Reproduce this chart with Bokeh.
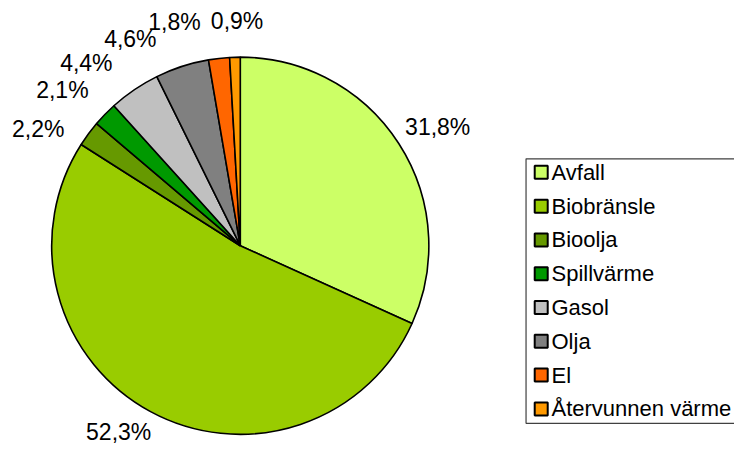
import math
from bokeh.plotting import figure
from bokeh.models import Range1d, ColumnDataSource
from bokeh.core.properties import value
from bokeh.embed import file_html
from bokeh.resources import INLINE

# ---- data ----
categories = ["Avfall", "Biobränsle", "Bioolja", "Spillvärme", "Gasol", "Olja", "El", "Återvunnen värme"]
shares = [31.8, 52.3, 2.2, 2.1, 4.4, 4.6, 1.8, 0.9]
labels = ["31,8%", "52,3%", "2,2%", "2,1%", "4,4%", "4,6%", "1,8%", "0,9%"]
colors = ["#CCFF66", "#99CC00", "#669900", "#009900", "#C0C0C0", "#808080", "#FF6600", "#FF9900"]

# ---- layout (reference pixel coords scaled into the figure, y up) ----
W, H = 734, 447
SX, SY = W / 750, H / 463
S = (SX + SY) / 2
def px(x):
    return x * SX
def py(y):
    return H - y * SY

cx, cy, R = px(245), py(254), 194 * S
label_nudge_deg = [-1.8, -4.7, 6.4, 3.0, 5.9, 10.0, 9.9, -0.8]
label_dist = [237, 229, 240, 243, 246, 241, 240, 231]
FONT = value("Liberation Sans")
FS = "23px"
LEG_FS = "22px"

p = figure(width=W, height=H, output_backend="svg", toolbar_location=None,
           x_range=Range1d(0, W), y_range=Range1d(0, H), min_border=0)
p.axis.visible = False
p.grid.visible = False
p.outline_line_color = None
p.background_fill_color = "white"

total = sum(shares)
starts, ends, lx, ly = [], [], [], []
cum = 0.0
for i, s in enumerate(shares):
    a0 = math.pi / 2 - 2 * math.pi * cum / total
    cum += s
    a1 = math.pi / 2 - 2 * math.pi * cum / total
    starts.append(a0)
    ends.append(a1)
    mid = (a0 + a1) / 2 + math.radians(label_nudge_deg[i])
    lx.append(cx + label_dist[i] * S * math.cos(mid))
    ly.append(cy + label_dist[i] * S * math.sin(mid))

src = ColumnDataSource(dict(start=starts, end=ends, color=colors))
p.wedge(x=cx, y=cy, radius=R, start_angle="start", end_angle="end", direction="clock",
        fill_color="color", line_color="black", line_width=1.6, source=src)

p.text(x=lx, y=ly, text=labels, text_align="center", text_baseline="middle",
       text_font=FONT, text_font_size=FS, text_color="black")

# ---- legend ----
box_left, box_top, box_bottom = px(537), py(164), py(438)
p.quad(left=box_left, right=box_left + 300, top=box_top, bottom=box_bottom,
       fill_color="white", line_color="#404040", line_width=1.2)
row0, row_step = 178, 35
ry = [py(row0 + row_step * i) for i in range(len(categories))]
p.rect(x=[px(552.5)] * len(categories), y=ry, width=13, height=13,
       fill_color=colors, line_color="black", line_width=2)
p.text(x=[px(563)] * len(categories), y=ry, text=categories, text_align="left",
       text_baseline="middle", text_font=FONT, text_font_size=LEG_FS, text_color="black")

open("out.html", "w").write(file_html(p, INLINE))
